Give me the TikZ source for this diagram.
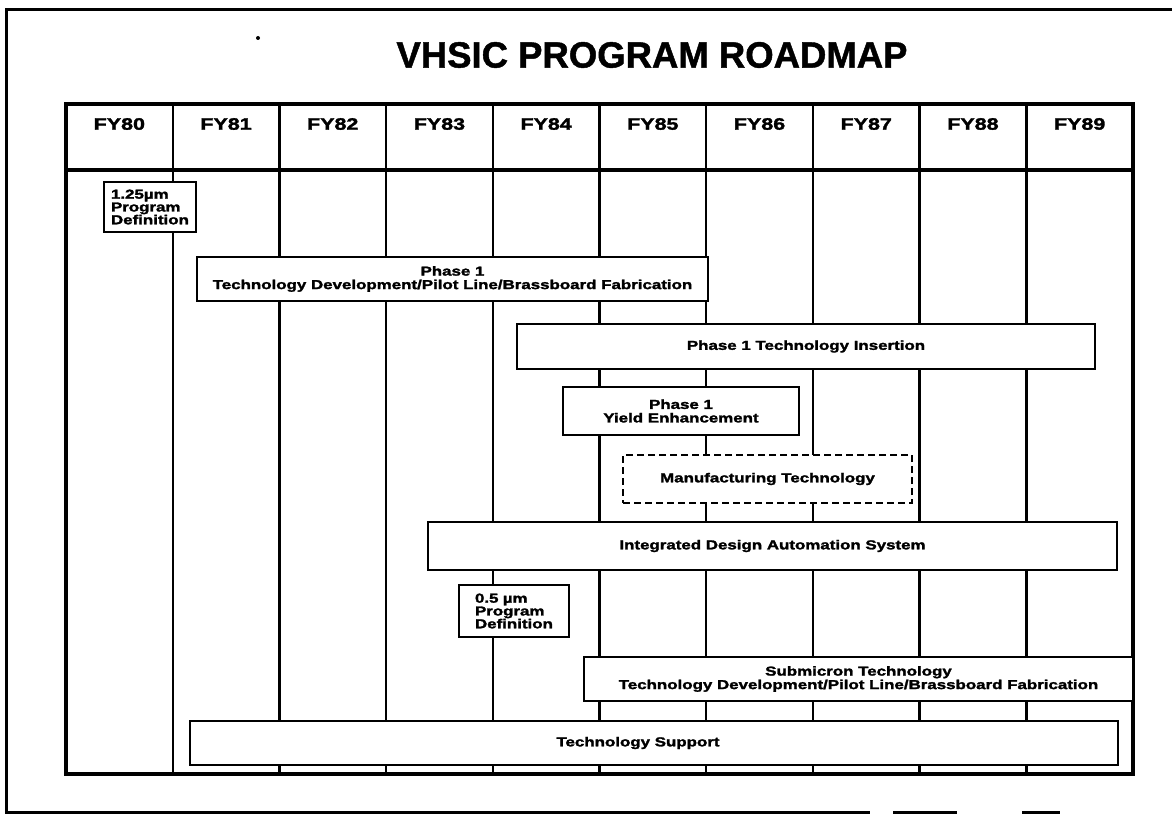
\documentclass[tikz,border=0pt]{standalone}
\usepackage{fontspec}
\newfontfamily\hv[FakeStretch=1.3,FakeBold=2]{Liberation Sans}
\newfontfamily\hvt[FakeBold=1.2]{Liberation Sans}
\begin{document}
\begin{tikzpicture}[x=1pt,y=-1pt,
  gridline/.style={line width=2.4pt},
  tableframe/.style={line width=3.4pt},
  outerframe/.style={line width=3pt},
  hdr/.style={font=\hv\bfseries\fontsize{16.5}{18}\selectfont, inner sep=0pt},
  bar/.style={draw, line width=2.8pt, fill=white, inner sep=0pt, align=center,
    font=\hv\bfseries\fontsize{13}{13.5}\selectfont},
  dashbar/.style={bar, dash pattern=on 7pt off 4pt, line width=2.6pt},
  defbox/.style={draw, line width=2.8pt, fill=white, align=left, inner ysep=0pt,
    text width=78pt, font=\hv\bfseries\fontsize{13}{12.8}\selectfont},
  lbl/.style={inner sep=0pt, align=center, font=\hv\bfseries\fontsize{13}{13.5}\selectfont}
]
\useasboundingbox (0,0) rectangle (1172,816);
% outer frame (partly lost in the scan)
\draw[outerframe] (1172,10) -- (6,10) -- (6,812) -- (870,812);
\draw[outerframe] (893,812) -- (957,812);
\draw[outerframe] (1022,812) -- (1060,812);
\fill (258,38) circle (2);
% title
\node[font=\hvt\bfseries\fontsize{36.5}{40}\selectfont, inner sep=0pt] (title) at (652,55) {VHSIC PROGRAM ROADMAP};
% grid
\foreach \i in {1,...,9} {
  \draw[gridline] ({66+\i*106.7},104) -- ({66+\i*106.7},774);
}
\draw[tableframe] (66,104) rectangle (1133,774);
\draw[tableframe] (66,170) -- (1133,170);
% year headings
\foreach \y [count=\i from 0] in {80,81,82,83,84,85,86,87,88,89} {
  \node[hdr] (fy\y) at ({119.35+\i*106.7},124) {FY\y};
}
% bars
\node[defbox, minimum width=92pt, minimum height=50pt, inner xsep=7pt] (def125) at (150,207)
  {1.25µm\\Program\\Definition};
\node[bar, minimum width=511pt, minimum height=44pt] (p1dev) at (452.5,279)
  {Phase 1\\Technology Development/Pilot Line/Brassboard Fabrication};
\node[bar, minimum width=578pt, minimum height=45pt] (p1ins) at (806,346.5)
  {Phase 1 Technology Insertion};
\node[bar, minimum width=236pt, minimum height=48pt] (p1yield) at (681,411)
  {Phase 1\\Yield Enhancement};
\node[dashbar, minimum width=289pt, minimum height=48pt] (mfg) at (767.5,479)
  {Manufacturing Technology};
\node[bar, minimum width=689pt, minimum height=48pt] (idas) at (772.5,546)
  {Integrated Design Automation System};
\node[defbox, minimum width=110pt, minimum height=52pt, inner xsep=16pt] (def05) at (514,611)
  {0.5 µm\\Program\\Definition};
\node[bar, minimum width=549pt, minimum height=44pt] (sub) at (858.5,679)
  {Submicron Technology\\Technology Development/Pilot Line/Brassboard Fabrication};
\node[bar, minimum width=928pt, minimum height=44pt] (ts) at (654,743) {};
\node[lbl] (tslabel) at (638,743) {Technology Support};
\end{tikzpicture}
\end{document}
